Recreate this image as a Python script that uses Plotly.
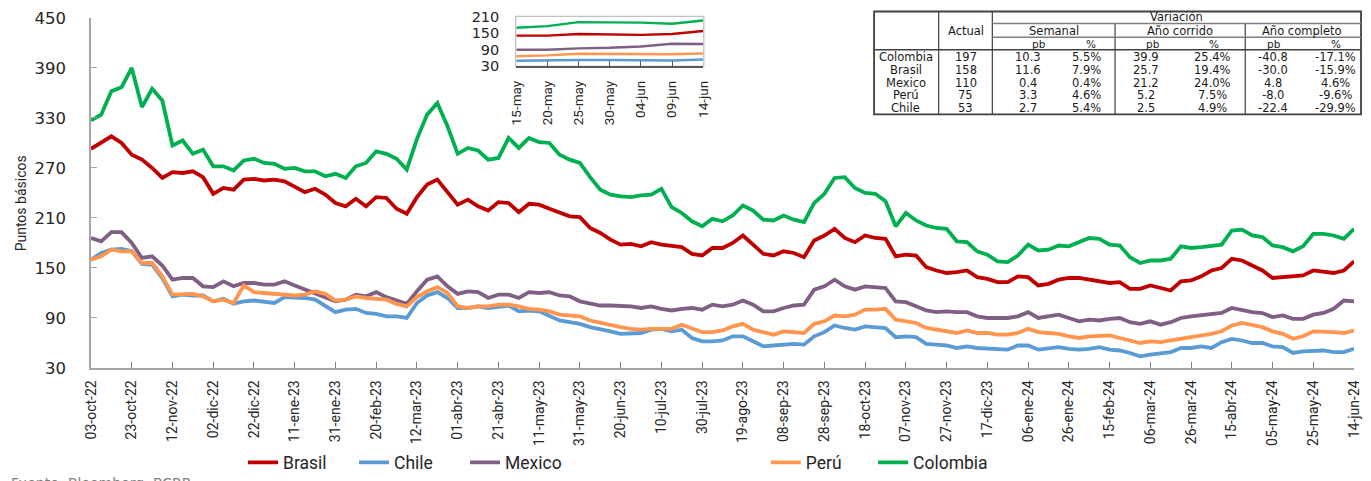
import pandas as pd
import plotly.graph_objects as go

# fechas (cada 5 dias) y etiquetas del eje
dates = pd.date_range("2022-10-03", "2024-06-14", freq="5D")
tick_dates = pd.date_range("2022-10-03", "2024-06-14", freq="20D")
tick_labels = ["03-oct-22", "23-oct-22", "12-nov-22", "02-dic-22", "22-dic-22", "11-ene-23",
               "31-ene-23", "20-feb-23", "12-mar-23", "01-abr-23", "21-abr-23", "11-may-23",
               "31-may-23", "20-jun-23", "10-jul-23", "30-jul-23", "19-ago-23", "08-sep-23",
               "28-sep-23", "18-oct-23", "07-nov-23", "27-nov-23", "17-dic-23", "06-ene-24",
               "26-ene-24", "15-feb-24", "06-mar-24", "26-mar-24", "15-abr-24", "05-may-24",
               "25-may-24", "14-jun-24"]
inset_ticks = pd.date_range("2024-05-15", "2024-06-14", freq="5D")
inset_labels = ["15-may", "20-may", "25-may", "30-may", "04-jun", "09-jun", "14-jun"]

colombia = [327, 334, 362, 367, 390, 343, 365, 351, 297, 303,
            287, 292, 272, 272, 267, 279, 281, 276, 275, 269,
            270, 266, 266, 260, 263, 258, 272, 276, 290, 287,
            281, 268, 305, 334, 348, 320, 287, 294, 291, 280,
            282, 306, 294, 306, 301, 300, 286, 280, 276, 259,
            244, 238, 236, 235, 237, 238, 245, 223, 216, 206,
            200, 209, 206, 213, 225, 219, 208, 207, 213, 208,
            205, 228, 239, 258, 259, 246, 240, 239, 230, 200,
            216, 207, 201, 198, 197, 182, 181, 170, 166, 158,
            157, 165, 178, 171, 172, 177, 176, 181, 186, 185,
            178, 177, 163, 156, 159, 159, 161, 176, 174, 175,
            176, 178, 195, 196, 189, 187, 177, 175, 170, 176,
            191, 191, 189, 185, 197]
brasil = [293, 301, 308, 300, 286, 280, 270, 258, 265, 264,
          266, 259, 239, 246, 244, 256, 257, 255, 256, 254,
          247, 241, 245, 238, 228, 224, 233, 224, 235, 234,
          221, 215, 235, 250, 256, 241, 226, 232, 224, 219,
          229, 228, 217, 227, 226, 221, 216, 212, 211, 198,
          192, 184, 178, 179, 176, 181, 178, 176, 175, 167,
          165, 174, 174, 180, 189, 178, 167, 165, 170, 168,
          163, 183, 189, 197, 186, 181, 189, 186, 185, 164,
          166, 165, 151, 147, 144, 145, 147, 139, 137, 133,
          133, 140, 139, 129, 131, 136, 138, 138, 136, 135,
          132, 133, 125, 125, 129, 126, 123, 134, 135, 140,
          147, 150, 161, 159, 153, 147, 138, 139, 141, 141,
          147, 145, 144, 147, 158]
mexico = [186, 182, 193, 193, 180, 162, 164, 153, 136, 138,
          138, 128, 127, 134, 128, 132, 132, 130, 130, 134,
          129, 124, 120, 115, 110, 112, 118, 116, 121, 115,
          111, 107, 122, 136, 140, 128, 119, 122, 121, 114,
          118, 118, 114, 121, 120, 121, 117, 116, 110, 108,
          105, 105, 105, 104, 102, 104, 101, 99, 101, 102,
          100, 106, 104, 106, 111, 106, 98, 98, 102, 105,
          106, 124, 128, 136, 128, 124, 128, 127, 126, 110,
          109, 104, 99, 97, 98, 97, 97, 92, 90, 90,
          90, 92, 97, 90, 92, 94, 90, 86, 88, 87,
          89, 90, 85, 83, 86, 82, 85, 90, 92, 93,
          95, 96, 102, 99, 97, 96, 91, 93, 89, 89,
          94, 96, 101, 111, 110]
peru = [160, 164, 172, 170, 170, 156, 156, 140, 118, 119,
        119, 116, 110, 112, 108, 129, 121, 120, 119, 118,
        117, 118, 122, 119, 111, 112, 116, 114, 113, 112,
        107, 104, 115, 122, 127, 120, 104, 102, 104, 104,
        106, 106, 104, 101, 100, 98, 94, 93, 92, 87,
        84, 81, 79, 77, 76, 77, 77, 77, 82, 77,
        73, 73, 75, 80, 83, 76, 73, 70, 74, 73,
        72, 83, 86, 93, 92, 94, 100, 100, 101, 88,
        86, 84, 78, 76, 75, 72, 75, 72, 72, 70,
        70, 72, 77, 73, 72, 71, 68, 66, 68, 69,
        69, 66, 63, 60, 62, 61, 63, 65, 67, 68,
        71, 74, 81, 84, 81, 79, 74, 71, 65, 68,
        74, 74, 73, 72, 75]
chile = [160, 168, 172, 173, 170, 155, 154, 138, 116, 118,
         117, 117, 110, 113, 107, 110, 111, 109, 108, 115,
         115, 114, 112, 104, 97, 100, 101, 96, 95, 92,
         92, 90, 108, 117, 121, 114, 102, 102, 104, 102,
         104, 105, 98, 99, 98, 92, 87, 85, 83, 79,
         77, 74, 71, 72, 72, 76, 77, 74, 76, 66,
         62, 62, 63, 68, 68, 62, 56, 57, 58, 59,
         58, 68, 73, 81, 78, 76, 80, 79, 78, 67,
         68, 67, 59, 58, 57, 54, 56, 54, 53, 52,
         52, 57, 57, 52, 54, 55, 53, 52, 53, 55,
         52, 51, 48, 44, 46, 48, 49, 54, 54, 56,
         54, 61, 65, 63, 60, 60, 56, 55, 48, 50,
         51, 51, 49, 49, 53]

# tabla
tbl_countries = ["Colombia", "Brasil", "Mexico", "Perú", "Chile"]
tbl_actual = ["197", "158", "110", "75", "53"]
tbl_sem_pb = ["10.3", "11.6", "0.4", "3.3", "2.7"]
tbl_sem_pct = ["5.5%", "7.9%", "0.4%", "4.6%", "5.4%"]
tbl_ac_pb = ["39.9", "25.7", "21.2", "5.2", "2.5"]
tbl_ac_pct = ["25.4%", "19.4%", "24.0%", "7.5%", "4.9%"]
tbl_co_pb = ["-40.8", "-30.0", "4.8", "-8.0", "-22.4"]
tbl_co_pct = ["-17.1%", "-15.9%", "4.6%", "-9.6%", "-29.9%"]

series = [("Brasil", brasil, "#C00000", "legend"),
          ("Chile", chile, "#5B9BD5", "legend"),
          ("Mexico", mexico, "#7F5F83", "legend"),
          ("Perú", peru, "#FF954F", "legend2"),
          ("Colombia", colombia, "#00B050", "legend3")]

W, H = 1371, 481
ML, MT, MR, MB = 91, 10, 0, 111
PW, PH = W - ML - MR, H - MT - MB


def px(x):
    return (x - ML) / PW


def py(y):
    return (H - MB - y) / PH


fig = go.Figure()
for name, vals, col, leg in series:
    fig.add_trace(go.Scatter(x=dates, y=vals, mode="lines", name=name,
                             line=dict(color=col, width=3.8), legend=leg))
# inset: ultimo mes
n_in = len(inset_ticks)
for name, vals, col, leg in series:
    fig.add_trace(go.Scatter(x=dates[-n_in:], y=vals[-n_in:], mode="lines", showlegend=False,
                             line=dict(color=col, width=2.4), xaxis="x2", yaxis="y2"))

txt = "#262626"
narrow = "Roboto, sans-serif"
wide = "DejaVu Sans, Verdana, sans-serif"
leg_style = dict(orientation="h", y=py(465), xanchor="left", yanchor="middle",
                 font=dict(family=narrow, size=17.5, color=txt), entrywidth=66,
                 bgcolor="rgba(0,0,0,0)")

fig.update_layout(
    width=W, height=H,
    margin=dict(l=ML, r=MR, t=MT, b=MB),
    plot_bgcolor="white", paper_bgcolor="white",
    xaxis=dict(domain=[0, px(1362)], type="date", range=[dates[0], dates[-1]],
               tickvals=tick_dates, ticktext=tick_labels, tickangle=-90,
               tickfont=dict(family=narrow, size=14, color=txt),
               showgrid=False, zeroline=False, showline=True, linecolor="#A6A6A6", linewidth=1.5,
               ticks="inside", ticklen=6, tickcolor="#808080", ticklabelstandoff=5),
    yaxis=dict(domain=[0, py(18)], range=[30, 450], tickvals=list(range(30, 451, 60)),
               tickfont=dict(family=wide, size=16.5, color=txt),
               showgrid=False, zeroline=False, showline=True, linecolor="#A6A6A6", linewidth=1.5,
               ticks="inside", ticklen=6, tickcolor="#A6A6A6", ticklabelstandoff=20),
    xaxis2=dict(domain=[px(519), px(707)], anchor="y2", type="date",
                range=[inset_ticks[0], inset_ticks[-1]],
                tickvals=inset_ticks, ticktext=inset_labels, tickangle=-90,
                tickfont=dict(family=narrow, size=13.5, color=txt),
                showgrid=False, zeroline=False, showline=True, linecolor="#595959", linewidth=1.5,
                ticks="inside", ticklen=5, tickcolor="#595959", ticklabelstandoff=8),
    yaxis2=dict(domain=[py(66), py(17)], anchor="x2", range=[30, 210], tickvals=[30, 90, 150, 210],
                tickfont=dict(family=wide, size=14.5, color=txt),
                showgrid=False, zeroline=False, showline=False, ticks="", ticklabelstandoff=16),
    legend=dict(leg_style, x=px(244)),
    legend2=dict(leg_style, x=px(770)),
    legend3=dict(leg_style, x=px(878), entrywidth=100),
)

shapes = [dict(type="rect", xref="paper", yref="paper", x0=px(519), x1=px(707), y0=py(66), y1=py(17),
               line=dict(color="#BFBFBF", width=2.5), layer="below")]


def hline(x0, x1, y, w=1.2, c="#404040"):
    shapes.append(dict(type="line", xref="paper", yref="paper", x0=px(x0), x1=px(x1),
                       y0=py(y), y1=py(y), line=dict(color=c, width=w)))


def vline(x, y0, y1, w=1.2, c="#404040"):
    shapes.append(dict(type="line", xref="paper", yref="paper", x0=px(x), x1=px(x),
                       y0=py(y0), y1=py(y1), line=dict(color=c, width=w)))


# tabla
T_L, T_R, T_T, T_B = 879, 1369, 11.5, 115
shapes.append(dict(type="rect", xref="paper", yref="paper", x0=px(T_L), x1=px(T_R),
                   y0=py(T_B), y1=py(T_T), line=dict(color="#404040", width=1.8)))
vline(944, T_T, T_B)
vline(998, T_T, T_B)
vline(1121.5, 23.5, T_B)
vline(1252.5, 23.5, T_B)
hline(998, T_R, 23.5, 1.5, "#7F7F7F")
hline(998, T_R, 37.5, 1.5, "#7F7F7F")
hline(T_L, T_R, 50, 1.5)

annots = []


def put(x, y, s, size=11.5):
    annots.append(dict(x=px(x), y=py(y), xref="paper", yref="paper", text=s, showarrow=False,
                       xanchor="center", yanchor="middle",
                       font=dict(family=wide, size=size, color="#1a1a1a")))


put(971, 31, "Actual")
put(1183, 17.5, "Variación")
put(1060, 31, "Semanal")
put(1187, 31, "Año corrido")
put(1310, 31, "Año completo")
for xc, s in [(1045, "pb"), (1097, "%"), (1160, "pb"), (1221, "%"), (1281, "pb"), (1344, "%")]:
    put(xc, 44, s, 10.5)
row_y = [57.5, 70.2, 83, 95.7, 108.4]
for i, yy in enumerate(row_y):
    put(911, yy, tbl_countries[i])
    put(971, yy, tbl_actual[i])
    put(1034, yy, tbl_sem_pb[i])
    put(1093, yy, tbl_sem_pct[i])
    put(1153, yy, tbl_ac_pb[i])
    put(1220, yy, tbl_ac_pct[i])
    put(1280, yy, tbl_co_pb[i])
    put(1343, yy, tbl_co_pct[i])

annots.append(dict(x=px(20), y=py(204), xref="paper", yref="paper", text="Puntos básicos",
                   textangle=-90, showarrow=False, xanchor="center", yanchor="middle",
                   font=dict(family=narrow, size=14, color=txt)))
annots.append(dict(x=px(8), y=py(476), xref="paper", yref="paper", text="Fuente: Bloomberg, BCRP",
                   showarrow=False, xanchor="left", yanchor="top",
                   font=dict(family=wide, size=14, color="#7F7F7F")))

fig.update_layout(shapes=shapes, annotations=annots)
# sin margen en el body para que la figura llene la ventana
fig.write_html("out.html", config={"displayModeBar": False},
               post_script="document.body.style.margin='0';")
